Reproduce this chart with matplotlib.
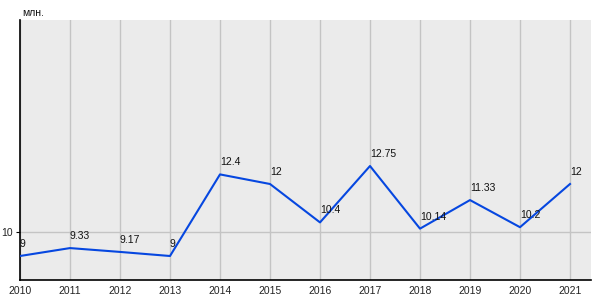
import matplotlib
matplotlib.use("Agg")
import matplotlib.pyplot as plt

years = [2010, 2011, 2012, 2013, 2014, 2015, 2016, 2017, 2018, 2019, 2020, 2021]
values = [9, 9.33, 9.17, 9, 12.4, 12, 10.4, 12.75, 10.14, 11.33, 10.2, 12]
labels = ["9", "9.33", "9.17", "9", "12.4", "12", "10.4", "12.75", "10.14", "11.33", "10.2", "12"]

plt.rcParams['font.family'] = ['Liberation Sans', 'DejaVu Sans']

fig = plt.figure(figsize=(6, 3), dpi=100)
ax = fig.add_axes([20/600, 20/300, 571/600, 260/300])
ax.set_facecolor('#ebebeb')

ax.plot(years, values, color='#0647e0', linewidth=1.5, zorder=3)
for x, y, lab in zip(years, values, labels):
    ax.annotate(lab, (x, y), xytext=(0, 5), textcoords='offset points',
                ha='left', va='bottom', fontsize=7.5, color='#111111', zorder=4)

ax.set_xlim(2010, 2010 + 571/50)
ax.set_ylim(8, 10 + 212/24)
ax.set_xticks(years)
ax.set_xticklabels([str(y) for y in years], fontsize=7.5, color='#222222')
ax.set_yticks([10])
ax.set_yticklabels(['10'], fontsize=7.5, color='#222222')
ax.grid(True, color='#c4c4c4', linewidth=1)
ax.set_axisbelow(True)
ax.tick_params(axis='x', length=0, pad=4)
ax.tick_params(axis='y', length=3, pad=2)
for s in ['top', 'right']:
    ax.spines[s].set_visible(False)
ax.spines['left'].set_linewidth(1.2)
ax.spines['bottom'].set_linewidth(1.2)

fig.text(22/600, 1 - 13/300, 'млн.', fontsize=7.5, color='#111111', va='center', ha='left')

fig.savefig('out.png', dpi=100)
